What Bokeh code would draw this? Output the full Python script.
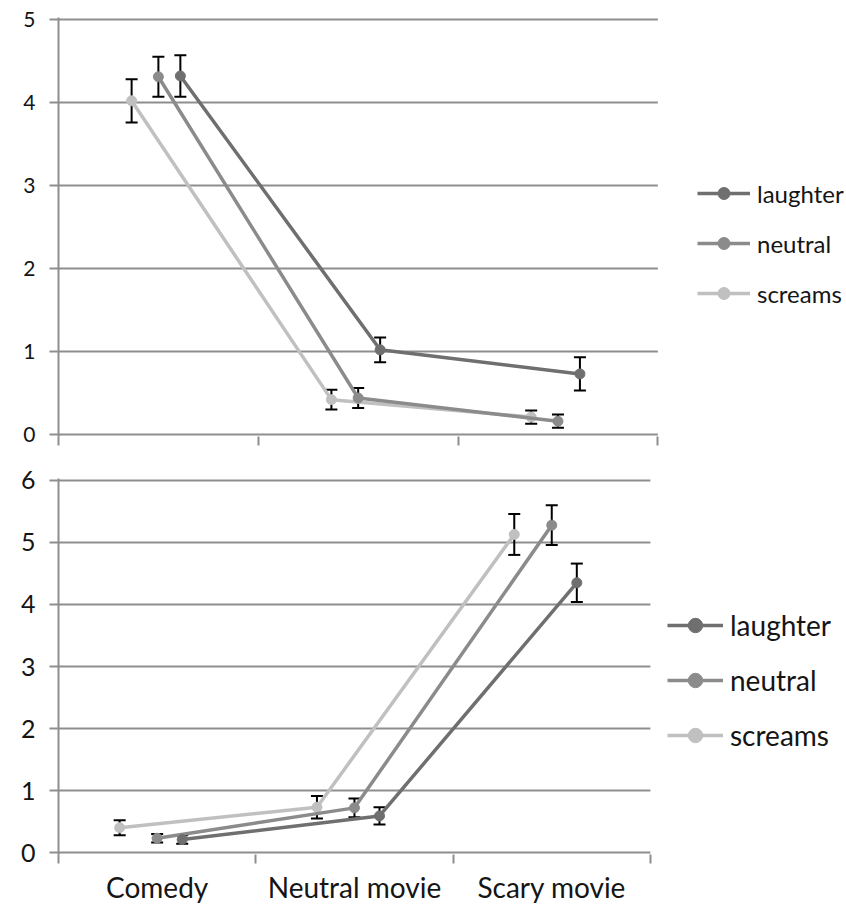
from bokeh.plotting import figure
from bokeh.models import (Range1d, FixedTicker, Whisker, TeeHead, ColumnDataSource,
                          Legend, LegendItem)
from bokeh.layouts import column
from bokeh.embed import file_html
from bokeh.resources import INLINE

categories = ["Comedy", "Neutral movie", "Scary movie"]
series = ["laughter", "neutral", "screams"]

# upper panel: means and error half-widths per movie category
top_laughter = [4.32, 1.02, 0.73]
top_laughter_err = [0.25, 0.15, 0.20]
top_neutral = [4.31, 0.44, 0.16]
top_neutral_err = [0.24, 0.12, 0.08]
top_screams = [4.02, 0.42, 0.21]
top_screams_err = [0.26, 0.12, 0.08]

# lower panel
bottom_laughter = [0.21, 0.59, 4.35]
bottom_laughter_err = [0.07, 0.14, 0.31]
bottom_neutral = [0.23, 0.72, 5.28]
bottom_neutral_err = [0.07, 0.15, 0.32]
bottom_screams = [0.40, 0.73, 5.13]
bottom_screams_err = [0.12, 0.18, 0.33]

COLORS = {"laughter": "#6f6f6f", "neutral": "#8b8b8b", "screams": "#c0c0c0"}
GRID = "#8e8e8e"
FONT = "Lato"
TEXT = "#151515"
NCAT = len(categories)


def panel(values, errors, ymax, offsets, height, left, top, frame_h, px_per_unit,
          px_per_cat, show_labels, tick_font, legend_font, legend_loc, legend_pitch,
          glyph_w, row_h):
    # a little padding so the outer gridlines are not cut by the frame
    pad = 2.0 / px_per_unit
    xmax = (846 - left) / px_per_cat
    p = figure(width=846, height=height, x_range=Range1d(0, xmax),
               y_range=Range1d(-pad, ymax + pad),
               output_backend="svg", toolbar_location=None,
               min_border_left=left, min_border_right=0,
               min_border_top=top, min_border_bottom=height - top - frame_h)
    p.outline_line_color = None
    p.background_fill_color = "white"
    p.border_fill_color = "white"
    p.grid.visible = False

    # horizontal gridlines spanning the category area only
    levels = list(range(ymax + 1))
    p.segment(x0=[0] * len(levels), x1=[NCAT] * len(levels), y0=levels, y1=levels,
              line_color=GRID, line_width=2, level="underlay")
    # the value axis continues a few pixels below the baseline
    p.segment(x0=[0], x1=[0], y0=[-pad * 4], y1=[0], line_color=GRID, line_width=2,
              level="underlay")

    # y axis
    yax = p.yaxis[0]
    yax.ticker = FixedTicker(ticks=levels, minor_ticks=[])
    yax.axis_line_color = GRID
    yax.axis_line_width = 2
    yax.major_tick_line_color = GRID
    yax.major_tick_line_width = 2
    yax.major_tick_out = 9
    yax.major_tick_in = 0
    yax.minor_tick_line_color = None
    yax.major_label_text_font = FONT
    yax.major_label_text_font_size = tick_font
    yax.major_label_text_color = TEXT
    yax.major_label_standoff = 14

    # x axis: category boundaries as ticks, names at centres
    xax = p.xaxis[0]
    centres = [i + 0.5 for i in range(NCAT)]
    bounds = list(range(NCAT + 1))
    if show_labels:
        xax.ticker = FixedTicker(ticks=centres, minor_ticks=bounds)
        xax.major_label_overrides = {c: n for c, n in zip(centres, categories)}
        xax.major_label_text_font = FONT
        xax.major_label_text_font_size = "28px"
        xax.major_label_text_color = TEXT
        xax.major_label_standoff = 6
    else:
        xax.ticker = FixedTicker(ticks=[], minor_ticks=bounds)
        xax.major_label_text_font_size = "0px"
    xax.axis_line_color = None
    xax.major_tick_line_color = None
    xax.minor_tick_line_color = GRID
    xax.minor_tick_line_width = 2
    xax.minor_tick_out = 9
    xax.minor_tick_in = 0

    items = {}
    for name in ["screams", "neutral", "laughter"]:
        xs = [c + offsets[name] for c in centres]
        ys = values[name]
        errs = errors[name]
        src = ColumnDataSource(dict(x=xs, y=ys,
                                    lower=[v - e for v, e in zip(ys, errs)],
                                    upper=[v + e for v, e in zip(ys, errs)]))
        ln = p.line("x", "y", source=src, line_color=COLORS[name], line_width=3.5)
        sc = p.scatter("x", "y", source=src, size=10, fill_color=COLORS[name],
                       line_color=COLORS[name])
        items[name] = [ln, sc]
        wh = Whisker(source=src, base="x", upper="upper", lower="lower",
                     line_color="black", line_width=2,
                     upper_head=TeeHead(size=12, line_color="black", line_width=2),
                     lower_head=TeeHead(size=12, line_color="black", line_width=2))
        p.add_layout(wh)

    legend = Legend(items=[LegendItem(label=s, renderers=items[s]) for s in series],
                    location=legend_loc, orientation="vertical",
                    glyph_width=glyph_w, glyph_height=row_h, label_height=row_h,
                    spacing=legend_pitch - row_h, padding=0, margin=0,
                    label_standoff=7, border_line_color=None,
                    background_fill_alpha=0,
                    label_text_font=FONT, label_text_font_size=legend_font,
                    label_text_color=TEXT)
    p.add_layout(legend)
    return p


top = panel(
    values={"laughter": top_laughter, "neutral": top_neutral, "screams": top_screams},
    errors={"laughter": top_laughter_err, "neutral": top_neutral_err,
            "screams": top_screams_err},
    ymax=5,
    offsets={"screams": -0.134, "neutral": 0.0, "laughter": 0.11},
    height=452, left=52, top=17, frame_h=419, px_per_unit=83.0, px_per_cat=201.3,
    show_labels=False, tick_font="21px", legend_font="24px", legend_loc=(639, 128),
    legend_pitch=50, glyph_w=53, row_h=30,
)

bottom = panel(
    values={"laughter": bottom_laughter, "neutral": bottom_neutral,
            "screams": bottom_screams},
    errors={"laughter": bottom_laughter_err, "neutral": bottom_neutral_err,
            "screams": bottom_screams_err},
    ymax=6,
    offsets={"screams": -0.19, "neutral": 0.0, "laughter": 0.127},
    height=454, left=58, top=26, frame_h=377, px_per_unit=62.2, px_per_cat=197.3,
    show_labels=True, tick_font="25px", legend_font="28px", legend_loc=(609, 101),
    legend_pitch=55, glyph_w=56, row_h=36,
)

layout = column(top, bottom, spacing=0)
open("out.html", "w").write(file_html(layout, INLINE))
